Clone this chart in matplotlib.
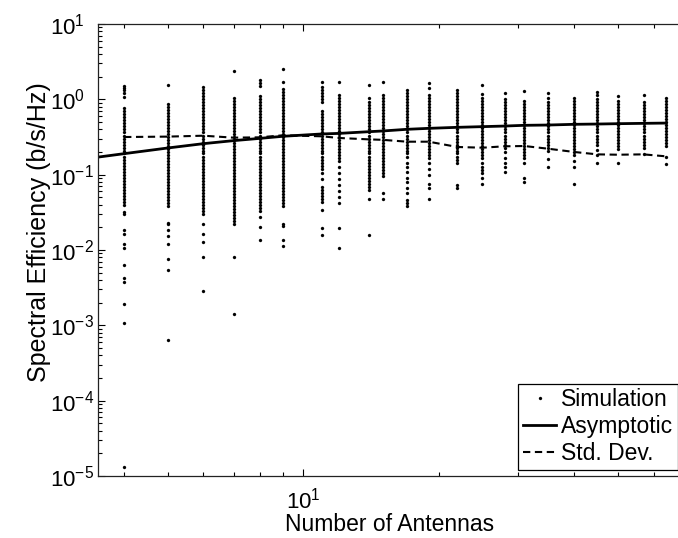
import matplotlib
matplotlib.use("Agg")
import matplotlib.pyplot as plt
from matplotlib.ticker import LogLocator, LogFormatterSciNotation, NullFormatter, FixedLocator

plt.rcParams['font.family'] = ['Liberation Sans', 'DejaVu Sans']
plt.rcParams['mathtext.fontset'] = 'custom'
plt.rcParams['mathtext.rm'] = 'Liberation Sans'
plt.rcParams['mathtext.it'] = 'Liberation Sans:italic'
plt.rcParams['mathtext.bf'] = 'Liberation Sans:bold'

# ---------------- data ----------------
sim_x = [4, 5, 6, 7, 8, 9, 11, 12, 14, 15, 17, 19, 22, 25, 28, 31, 35, 40, 45, 50, 57, 64]

sim_n4 = [1.49, 1.40, 1.32, 1.20, 1.06, 0.759, 0.692, 0.631, 0.575, 0.525, 0.479, 0.437, 0.398, 0.363,
          0.331, 0.302, 0.275, 0.251, 0.229, 0.209, 0.191, 0.174, 0.158, 0.145, 0.132, 0.120, 0.110,
          0.100, 0.0912, 0.0832, 0.0759, 0.0692, 0.0631, 0.0575, 0.0525, 0.0479, 0.0437, 0.0391,
          0.0316, 0.0302, 0.0182, 0.0161, 0.0119, 0.0105, 0.00625, 0.0042, 0.00372, 0.0019,
          0.00106, 0.000013]
sim_n5 = [1.56, 0.871, 0.794, 0.724, 0.661, 0.603, 0.550, 0.501, 0.457, 0.417, 0.380, 0.347, 0.316,
          0.288, 0.263, 0.240, 0.219, 0.200, 0.182, 0.166, 0.151, 0.138, 0.126, 0.115, 0.105, 0.0955,
          0.0871, 0.0794, 0.0724, 0.0661, 0.0603, 0.0550, 0.0501, 0.0457, 0.0417, 0.0380, 0.0229,
          0.0219, 0.0182, 0.0152, 0.0119, 0.0075, 0.00536, 0.00063]
sim_n6 = [1.44, 1.32, 1.20, 1.10, 1.00, 0.912, 0.832, 0.759, 0.692, 0.631, 0.575, 0.525, 0.479, 0.437,
          0.398, 0.363, 0.331, 0.302, 0.275, 0.251, 0.229, 0.209, 0.191, 0.174, 0.158, 0.145, 0.132,
          0.120, 0.110, 0.100, 0.0912, 0.0832, 0.0759, 0.0692, 0.0631, 0.0575, 0.0525, 0.0479, 0.0437,
          0.0398, 0.0363, 0.0331, 0.0302, 0.0224, 0.0161, 0.0126, 0.00798, 0.00282]
sim_n7 = [2.35, 1.047, 0.955, 0.871, 0.794, 0.724, 0.661, 0.603, 0.550, 0.501, 0.457, 0.417, 0.380,
          0.347, 0.316, 0.288, 0.263, 0.240, 0.219, 0.200, 0.182, 0.166, 0.151, 0.138, 0.126, 0.115,
          0.105, 0.0955, 0.0871, 0.0794, 0.0724, 0.0661, 0.0603, 0.0550, 0.0501, 0.0457, 0.0417,
          0.0380, 0.0347, 0.0316, 0.0288, 0.0263, 0.0240, 0.0219, 0.00798, 0.0014]
sim_n8 = [1.79, 1.63, 1.49, 1.10, 1.00, 0.912, 0.832, 0.759, 0.692, 0.631, 0.575, 0.525, 0.479, 0.437,
          0.398, 0.363, 0.331, 0.302, 0.275, 0.251, 0.229, 0.209, 0.191, 0.174, 0.158, 0.145, 0.132,
          0.120, 0.110, 0.100, 0.0912, 0.0832, 0.0759, 0.0692, 0.0631, 0.0575, 0.0525, 0.0479, 0.0437,
          0.0398, 0.0363, 0.0331, 0.0271, 0.0200, 0.0134]
sim_n9 = [2.51, 1.68, 1.38, 1.26, 1.15, 1.047, 0.955, 0.871, 0.794, 0.724, 0.661, 0.603, 0.550, 0.501,
          0.457, 0.417, 0.380, 0.347, 0.316, 0.288, 0.263, 0.240, 0.219, 0.200, 0.182, 0.166, 0.151,
          0.138, 0.126, 0.115, 0.105, 0.0955, 0.0871, 0.0794, 0.0724, 0.0661, 0.0603, 0.0550, 0.0501,
          0.0457, 0.0417, 0.0380, 0.0219, 0.0209, 0.0134, 0.0112]
sim_n11 = [1.68, 1.45, 1.32, 1.20, 1.10, 1.00, 0.912, 0.692, 0.631, 0.575, 0.525, 0.479, 0.437, 0.398,
           0.363, 0.331, 0.302, 0.275, 0.251, 0.229, 0.209, 0.191, 0.174, 0.158, 0.145, 0.132, 0.120,
           0.104, 0.087, 0.0692, 0.0631, 0.0575, 0.0525, 0.0479, 0.0437, 0.0336, 0.0194, 0.0156]
sim_n12 = [1.68, 1.15, 1.047, 0.955, 0.871, 0.794, 0.724, 0.661, 0.603, 0.550, 0.501, 0.457, 0.417,
           0.380, 0.347, 0.316, 0.288, 0.263, 0.240, 0.219, 0.200, 0.182, 0.166, 0.151, 0.126, 0.105,
           0.0871, 0.0724, 0.0603, 0.0501, 0.0417, 0.0194, 0.0105]
sim_n14 = [1.53, 1.03, 0.912, 0.832, 0.759, 0.692, 0.631, 0.575, 0.525, 0.479, 0.437, 0.398, 0.363,
           0.331, 0.302, 0.275, 0.251, 0.229, 0.209, 0.191, 0.174, 0.158, 0.145, 0.132, 0.120, 0.110,
           0.100, 0.0912, 0.0832, 0.0759, 0.0692, 0.0631, 0.0479, 0.0156]
sim_n15 = [1.68, 1.15, 1.047, 0.955, 0.871, 0.794, 0.724, 0.661, 0.603, 0.550, 0.501, 0.457, 0.417,
           0.380, 0.347, 0.316, 0.288, 0.263, 0.240, 0.219, 0.200, 0.182, 0.166, 0.151, 0.138, 0.126,
           0.115, 0.105, 0.0955, 0.0565, 0.0479]
sim_n17 = [1.32, 1.20, 1.10, 1.00, 0.912, 0.832, 0.759, 0.692, 0.631, 0.575, 0.525, 0.479, 0.437,
           0.398, 0.363, 0.331, 0.302, 0.275, 0.251, 0.229, 0.209, 0.191, 0.174, 0.141, 0.125, 0.107,
           0.0912, 0.079, 0.066, 0.0565, 0.0456, 0.0418, 0.0379]
sim_n19 = [1.63, 1.40, 1.15, 1.047, 0.955, 0.871, 0.794, 0.724, 0.661, 0.603, 0.550, 0.501, 0.457,
           0.417, 0.380, 0.347, 0.316, 0.288, 0.263, 0.240, 0.219, 0.200, 0.182, 0.166, 0.141, 0.118,
           0.098, 0.0759, 0.066, 0.0471]
sim_n22 = [1.32, 1.20, 1.10, 1.00, 0.912, 0.832, 0.759, 0.692, 0.631, 0.575, 0.525, 0.479, 0.437,
           0.398, 0.363, 0.331, 0.302, 0.275, 0.251, 0.229, 0.209, 0.191, 0.174, 0.158, 0.145, 0.0738,
           0.066]
sim_n25 = [1.53, 1.165, 1.047, 0.955, 0.871, 0.794, 0.724, 0.661, 0.603, 0.550, 0.501, 0.457, 0.417,
           0.380, 0.347, 0.316, 0.288, 0.263, 0.240, 0.219, 0.200, 0.182, 0.166, 0.141, 0.125, 0.114,
           0.104, 0.0912, 0.0759]
sim_n28 = [1.20, 1.00, 0.912, 0.832, 0.759, 0.692, 0.631, 0.575, 0.525, 0.479, 0.437, 0.398, 0.363,
           0.331, 0.302, 0.275, 0.251, 0.229, 0.198, 0.164, 0.141, 0.125, 0.107]
sim_n31 = [1.28, 0.955, 0.871, 0.794, 0.724, 0.661, 0.603, 0.550, 0.501, 0.457, 0.417, 0.380, 0.347,
           0.316, 0.288, 0.263, 0.240, 0.219, 0.200, 0.182, 0.166, 0.141, 0.0893, 0.079]
sim_n35 = [1.20, 1.03, 0.912, 0.832, 0.759, 0.692, 0.631, 0.575, 0.525, 0.479, 0.437, 0.398, 0.363,
           0.331, 0.302, 0.275, 0.251, 0.229, 0.209, 0.159, 0.125]
sim_n40 = [1.047, 0.955, 0.871, 0.794, 0.724, 0.661, 0.603, 0.550, 0.501, 0.457, 0.417, 0.380, 0.347,
           0.316, 0.288, 0.263, 0.240, 0.219, 0.200, 0.182, 0.151, 0.126, 0.0759]
sim_n45 = [1.24, 1.13, 1.00, 0.912, 0.832, 0.759, 0.692, 0.631, 0.575, 0.525, 0.479, 0.437, 0.398,
           0.363, 0.331, 0.302, 0.275, 0.251, 0.21, 0.18, 0.141]
sim_n50 = [1.096, 0.955, 0.871, 0.794, 0.724, 0.661, 0.603, 0.550, 0.501, 0.457, 0.417, 0.380, 0.347,
           0.316, 0.288, 0.263, 0.240, 0.219, 0.141]
sim_n57 = [1.13, 0.912, 0.832, 0.759, 0.692, 0.631, 0.575, 0.525, 0.479, 0.437, 0.398, 0.363, 0.331,
           0.302, 0.275, 0.251, 0.229, 0.186]
sim_n64 = [1.047, 0.955, 0.871, 0.794, 0.724, 0.661, 0.603, 0.550, 0.501, 0.457, 0.417, 0.380, 0.347,
           0.316, 0.288, 0.263, 0.240, 0.17, 0.137]

asym_x = [3.5, 4, 5, 6, 7, 8, 9, 11, 12, 14, 15, 17, 19, 22, 25, 28, 31, 35, 40, 45, 50, 57, 64]
asym_y = [0.171, 0.19, 0.226, 0.258, 0.283, 0.303, 0.323, 0.347, 0.353, 0.372, 0.38, 0.40, 0.412,
          0.425, 0.434, 0.442, 0.452, 0.456, 0.466, 0.47, 0.475, 0.48, 0.484]

std_x = [4, 5, 6, 7, 8, 9, 11, 12, 14, 15, 17, 19, 22, 25, 28, 31, 35, 40, 45, 50, 57, 64]
std_y = [0.316, 0.32, 0.329, 0.31, 0.313, 0.333, 0.323, 0.307, 0.294, 0.29, 0.274, 0.274, 0.233,
         0.228, 0.238, 0.24, 0.221, 0.2, 0.186, 0.184, 0.186, 0.175]

y_major_ticks = [1e-5, 1e-4, 1e-3, 1e-2, 1e-1, 1e0, 1e1]
x_major_ticks = [10]
x_minor_ticks = [4, 5, 6, 7, 8, 9, 20, 30, 40, 50, 60]

legend_labels = ['Simulation', 'Asymptotic', 'Std. Dev.']
x_label = 'Number of Antennas'
y_label = 'Spectral Efficiency (b/s/Hz)'

sim_cols = [sim_n4, sim_n5, sim_n6, sim_n7, sim_n8, sim_n9, sim_n11, sim_n12, sim_n14, sim_n15,
            sim_n17, sim_n19, sim_n22, sim_n25, sim_n28, sim_n31, sim_n35, sim_n40, sim_n45,
            sim_n50, sim_n57, sim_n64]

# ---------------- figure ----------------
W, H = 678, 538
AX_L, AX_R, AX_T, AX_B = 98, 682, 24, 476
fig = plt.figure(figsize=(W / 100, H / 100), dpi=100)
ax = fig.add_axes([AX_L / W, 1 - AX_B / H, (AX_R - AX_L) / W, (AX_B - AX_T) / H])

px, py = [], []
for xv, col in zip(sim_x, sim_cols):
    px.extend([xv] * len(col))
    py.extend(col)

ax.plot(px, py, linestyle='none', marker='o', markersize=2.2, markerfacecolor='black',
        markeredgecolor='black', markeredgewidth=0.2, label=legend_labels[0])
ax.plot(asym_x, asym_y, color='black', linewidth=2.0, label=legend_labels[1])
ax.plot(std_x, std_y, color='black', linewidth=1.5, dashes=(3.5, 2.2), label=legend_labels[2])

ax.set_xscale('log')
ax.set_yscale('log')
ax.set_xlim(3.5, 69.4)
ax.set_ylim(1e-5, 10)

ax.xaxis.set_major_locator(FixedLocator(x_major_ticks))
ax.xaxis.set_major_formatter(LogFormatterSciNotation())
ax.xaxis.set_minor_locator(FixedLocator(x_minor_ticks))
ax.xaxis.set_minor_formatter(NullFormatter())
ax.yaxis.set_major_locator(FixedLocator(y_major_ticks))
ax.yaxis.set_major_formatter(LogFormatterSciNotation())
ax.yaxis.set_minor_locator(LogLocator(base=10, subs=range(2, 10), numticks=20))
ax.yaxis.set_minor_formatter(NullFormatter())

ax.tick_params(which='both', direction='in', top=True, right=False, colors='black',
               labelsize=16, width=0.8)
ax.tick_params(axis='x', which='major', pad=8)
ax.tick_params(axis='y', which='major', pad=34.5)
ax.tick_params(which='major', length=5)
ax.tick_params(which='minor', length=3)
for lab in ax.get_yticklabels():
    lab.set_horizontalalignment('left')
for s in ax.spines.values():
    s.set_linewidth(0.9)
    s.set_color('#222222')

ax.set_xlabel(x_label, fontsize=16.5, labelpad=0)
ax.set_ylabel(y_label, fontsize=18)
ax.yaxis.set_label_coords(-0.0805, 0.54)

leg = ax.legend(loc='lower right', bbox_to_anchor=((678 - AX_L) / (AX_R - AX_L), 6 / (AX_B - AX_T)),
                borderaxespad=0.0, fontsize=16.5, frameon=True, fancybox=False, framealpha=1,
                edgecolor='black', handlelength=1.45, handletextpad=0.22, borderpad=0.2,
                labelspacing=0.18, markerscale=1.0)
leg.get_frame().set_linewidth(0.9)

fig.savefig('out.png', dpi=100)
